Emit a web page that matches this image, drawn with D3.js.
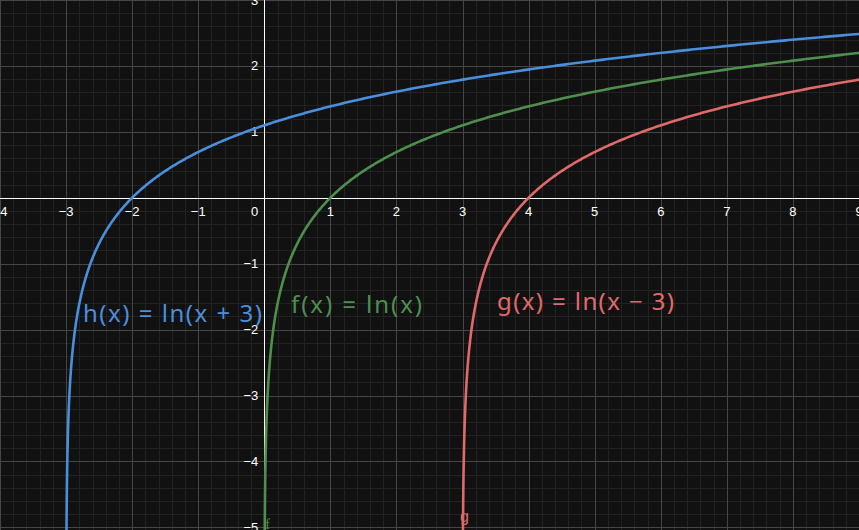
<!DOCTYPE html>
<html>
<head>
<meta charset="utf-8">
<script src="https://cdn.jsdelivr.net/npm/d3@7/dist/d3.min.js"></script>
<style>
  html, body { margin: 0; padding: 0; background: #111111; }
  svg { display: block; }
</style>
</head>
<body>
<svg id="chart" width="859" height="530"></svg>
<script>
// ---- data ----
const xDomain = [-4, 9];
const yDomain = [-5.04, 3];
const xTicks = [-4, -3, -2, -1, 0, 1, 2, 3, 4, 5, 6, 7, 8, 9];
const yTicks = [-5, -4, -3, -2, -1, 1, 2, 3];
const minorPerUnit = 5;

const curveNames = ["h", "f", "g"];
const curveShifts = [3, 0, -3];            // ln(x + shift)
const curveColors = ["#4a8fdc", "#4e8f4e", "#e06a6a"];
const curveLabels = ["h(x) = ln(x + 3)", "f(x) = ln(x)", "g(x) = ln(x − 3)"];
const labelX = [83, 291, 497];
const labelY = [322, 313, 310];
const labelW = [179, 131, 177];

// ---- setup ----
const W = 859, H = 530;
const svg = d3.select("#chart");
const x = d3.scaleLinear().domain(xDomain).range([0, W]);
const y = d3.scaleLinear().domain(yDomain).range([H, 0]);

svg.append("rect").attr("width", W).attr("height", H).attr("fill", "#111111");

// minor grid
const minorX = d3.range(xDomain[0] * minorPerUnit, xDomain[1] * minorPerUnit + 1).map(d => d / minorPerUnit);
const minorY = d3.range(-5 * minorPerUnit, 3 * minorPerUnit + 1).map(d => d / minorPerUnit);
const grid = svg.append("g").attr("shape-rendering", "crispEdges");
grid.selectAll(".mx").data(minorX).enter().append("line")
  .attr("x1", d => Math.round(x(d)) + 0.5).attr("x2", d => Math.round(x(d)) + 0.5)
  .attr("y1", 0).attr("y2", H).attr("stroke", "#222222").attr("stroke-width", 1);
grid.selectAll(".my").data(minorY).enter().append("line")
  .attr("y1", d => Math.round(y(d)) + 0.5).attr("y2", d => Math.round(y(d)) + 0.5)
  .attr("x1", 0).attr("x2", W).attr("stroke", "#222222").attr("stroke-width", 1);
// major grid
grid.selectAll(".Mx").data(xTicks).enter().append("line")
  .attr("x1", d => Math.round(x(d)) + 0.5).attr("x2", d => Math.round(x(d)) + 0.5)
  .attr("y1", 0).attr("y2", H).attr("stroke", "#464646").attr("stroke-width", 1);
grid.selectAll(".My").data(yTicks.concat([0])).enter().append("line")
  .attr("y1", d => Math.round(y(d)) + 0.5).attr("y2", d => Math.round(y(d)) + 0.5)
  .attr("x1", 0).attr("x2", W).attr("stroke", "#464646").attr("stroke-width", 1);

// axes
const ax = svg.append("g").attr("shape-rendering", "crispEdges");
ax.append("line").attr("x1", 0).attr("x2", W)
  .attr("y1", Math.round(y(0)) + 0.5).attr("y2", Math.round(y(0)) + 0.5)
  .attr("stroke", "#ffffff").attr("stroke-width", 1.5);
ax.append("line").attr("y1", 0).attr("y2", H)
  .attr("x1", Math.round(x(0)) + 0.5).attr("x2", Math.round(x(0)) + 0.5)
  .attr("stroke", "#ffffff").attr("stroke-width", 1.5);

// tick labels
const fmt = d => (d < 0 ? "−" + Math.abs(d) : String(d));
const tl = svg.append("g").attr("font-family", "'Liberation Sans', Arial, sans-serif")
  .attr("font-size", 13).attr("fill", "#ffffff");
tl.selectAll(".xl").data(xTicks.filter(d => d !== 0)).enter().append("text")
  .attr("x", d => x(d)).attr("y", y(0) + 18).attr("text-anchor", "middle").text(fmt);
tl.append("text").attr("x", x(0) - 6).attr("y", y(0) + 18).attr("text-anchor", "end").text("0");
tl.selectAll(".yl").data(yTicks).enter().append("text")
  .attr("x", x(0) - 6).attr("y", d => y(d)).attr("dy", "0.35em")
  .attr("text-anchor", "end").text(fmt);

// curves: x = e^y - shift, sampled along y for even resolution near the asymptote
const line = d3.line().x(d => x(d[0])).y(d => y(d[1]));
curveShifts.forEach((s, i) => {
  const yMax = Math.log(xDomain[1] + 0.2 + s);
  const pts = d3.range(-5.3, yMax, 0.004).map(v => [Math.exp(v) - s, v]);
  pts.push([xDomain[1] + 0.2, yMax]);
  svg.append("path").datum(pts)
    .attr("fill", "none").attr("stroke", curveColors[i])
    .attr("stroke-width", 2.6).attr("stroke-linejoin", "round")
    .attr("d", line);
});

// curve labels
curveLabels.forEach((t, i) => {
  svg.append("text")
    .attr("x", labelX[i]).attr("y", labelY[i])
    .attr("font-family", "'Noto Sans', 'DejaVu Sans', sans-serif")
    .attr("font-size", 24)
    .attr("fill", curveColors[i])
    .attr("textLength", labelW[i]).attr("lengthAdjust", "spacing")
    .text(t);
});

// small end labels at the bottom
svg.append("text").attr("x", x(0 + Math.exp(-5)) + 0.5).attr("y", 529)
  .attr("font-family", "'Liberation Serif', serif").attr("font-size", 14)
  .attr("fill", curveColors[1]).text(curveNames[1]);
svg.append("text").attr("x", x(3 + Math.exp(-5)) - 3).attr("y", 522)
  .attr("font-family", "'Liberation Sans', sans-serif").attr("font-size", 16)
  .attr("fill", curveColors[2]).text(curveNames[2]);
</script>
</body>
</html>
